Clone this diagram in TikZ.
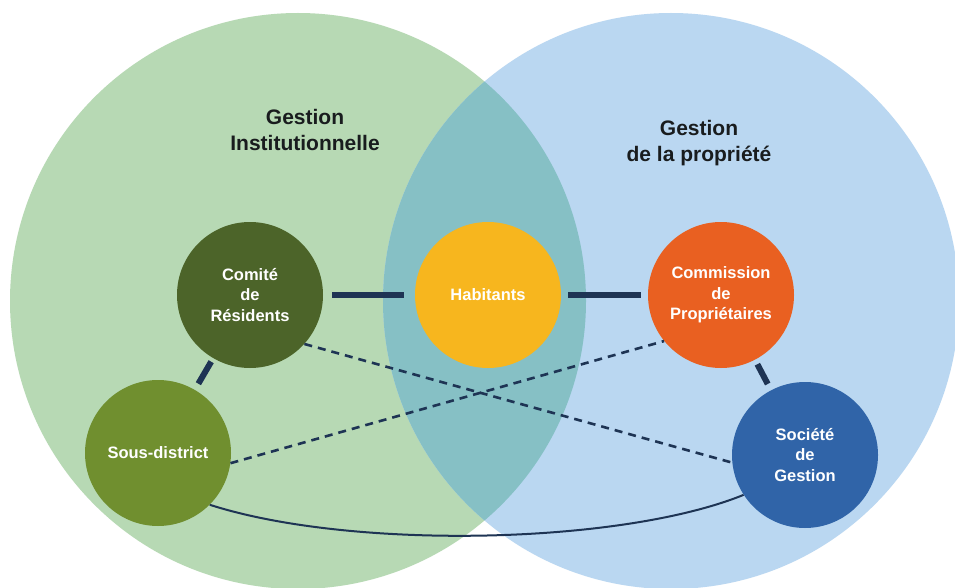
\documentclass[tikz,border=0pt]{standalone}
\usepackage{fontspec}
\setmainfont{Liberation Sans}
\definecolor{gbig}{RGB}{183,217,180}
\definecolor{bbig}{RGB}{186,215,241}
\definecolor{overlapc}{RGB}{134,192,197}
\definecolor{comc}{RGB}{76,100,41}
\definecolor{sousc}{RGB}{112,143,47}
\definecolor{habc}{RGB}{247,182,30}
\definecolor{cpc}{RGB}{233,96,33}
\definecolor{socc}{RGB}{48,100,168}
\definecolor{navy}{RGB}{30,52,84}
\definecolor{titlec}{RGB}{25,28,30}
\tikzset{
  smallcirc/.style={circle, minimum size=146pt, inner sep=0pt, text=white, align=center,
    font=\bfseries\fontsize{16.5}{20.5}\selectfont},
  titletext/.style={align=center, text=titlec, font=\bfseries\fontsize{21}{26}\selectfont},
  bar/.style={draw=navy, line width=6pt},
  dashline/.style={draw=navy, line width=2.6pt, dash pattern=on 8pt off 6pt},
  curveline/.style={draw=navy, line width=2pt}
}
\begin{document}
\begin{tikzpicture}[x=1pt,y=-1pt]
\useasboundingbox (0,0) rectangle (955,588);
\clip (0,0) rectangle (955,588);
\fill[white] (0,0) rectangle (955,588);
% big circles
\fill[gbig] (298,301) circle[radius=288pt];
\fill[bbig] (671,301) circle[radius=288pt];
\begin{scope}
  \clip (298,301) circle[radius=288pt];
  \fill[overlapc] (671,301) circle[radius=288pt];
\end{scope}
% titles
\node[titletext] (tl) at (305,130) {Gestion\\Institutionnelle};
\node[titletext] (tr) at (699,143) {Gestion\\de la propriété};
% small circles
\node[smallcirc, fill=comc] (com) at (250,295) {Comité\\de\\Résidents};
\node[smallcirc, fill=habc] (hab) at (488,295) {Habitants};
\node[smallcirc, fill=cpc] (cp) at (721,295) {Commission\\de\\Propriétaires};
\node[smallcirc, fill=sousc] (sous) at (158,453) {Sous-district};
\node[smallcirc, fill=socc] (soc) at (805,455) {Société\\de\\Gestion};
% connectors
\draw[bar, shorten <=9pt, shorten >=11pt] (com) -- (hab);
\draw[bar, shorten <=7pt, shorten >=7pt] (hab) -- (cp);
\draw[bar, shorten <=4pt, shorten >=7pt] (com) -- (sous);
\draw[bar, shorten <=5pt, shorten >=7pt] (cp) -- (soc);
\draw[dashline] (com.-42) -- (soc.186);
\draw[dashline] (sous.-8) -- (cp.219);
\draw[curveline] (sous.-45) .. controls (350,550) and (620,545) .. (soc.213);
\end{tikzpicture}
\end{document}
